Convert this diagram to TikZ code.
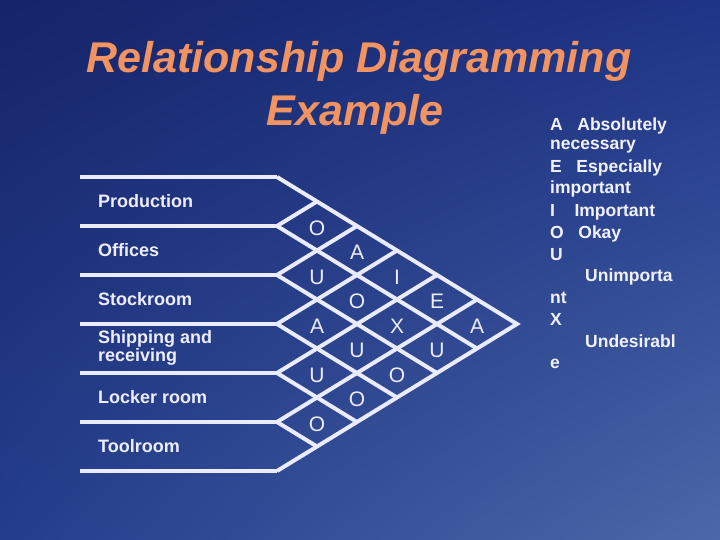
\documentclass[tikz,border=0pt]{standalone}
\usepackage{fontspec}
\usetikzlibrary{shadings}
\setmainfont{Liberation Sans}
\definecolor{bgul}{RGB}{22,36,105}
\definecolor{bgur}{RGB}{30,52,135}
\definecolor{bgll}{RGB}{36,62,140}
\definecolor{bglr}{RGB}{75,105,170}
\definecolor{ttlc}{RGB}{242,148,98}
\begin{document}
\begin{tikzpicture}[x=1pt,y=-1pt,
  grid/.style={draw=white!92!blue,line width=4pt},
  rowlab/.style={anchor=west,font=\bfseries\fontsize{18}{18}\selectfont,text=white!93!blue,inner sep=0pt,align=left},
  cell/.style={font=\fontsize{21}{21}\selectfont,text=white!93!blue},
  leg/.style={anchor=west,font=\bfseries\fontsize{17.5}{18}\selectfont,text=white!95!blue,inner sep=0pt},
  ttl/.style={font=\bfseries\itshape\fontsize{43}{43}\selectfont,text=ttlc}]
\useasboundingbox (0,0) rectangle (720,540);
\shade[upper left=bgul,upper right=bgur,lower left=bgll,lower right=bglr] (0,0) rectangle (720,540);
% title
\node[ttl] (t1) at (359,61) {Relationship Diagramming};
\node[ttl] (t2) at (355,114) {Example};
% grid
\def\L{277}\def\H{49}\def\D{80}\def\T{177}
\foreach \i in {0,...,6}{
  \draw[grid,line cap=butt] (80,\T+\i*\H) -- (\L,\T+\i*\H);
}
\coordinate (apex) at (\L+3*\D,\T+3*\H);
\draw[grid,line join=miter] (\L,\T) -- (apex) -- (\L,\T+6*\H);
\foreach \i in {1,...,5}{
  \draw[grid] (\L,\T+\i*\H) -- (\L+\D*0.5*6-\D*0.5*\i,\T+\i*\H+0.5*6*\H-0.5*\i*\H);
  \draw[grid] (\L,\T+\i*\H) -- (\L+\D*0.5*\i,\T+0.5*\i*\H);
}
% row labels
\foreach \n/\txt [count=\k from 0] in {r0/Production,r1/Offices,r2/Stockroom,r3/{Shipping and\\receiving},r4/Locker room,r5/Toolroom}{
  \node[rowlab] (\n) at (98,\T+\k*\H+24) {\txt};
}
% cells
\foreach \a/\b/\l in {0/1/O,0/2/A,0/3/I,0/4/E,0/5/A,1/2/U,1/3/O,1/4/X,1/5/U,2/3/A,2/4/U,2/5/O,3/4/U,3/5/O,4/5/O}{
  \node[cell] (c\a\b) at (\L+\D*0.5*\b-\D*0.5*\a,\T+0.5*\a*\H+0.5*\b*\H+0.5*\H+2) {\l};
}
% legend
\foreach \x/\y/\txt [count=\k] in {550/126/{A\ \ \ Absolutely},550/147/necessary,550/168/{E\ \ \ Especially},550/189/important,550/212/{I\ \ \ \ Important},550/234/{O\ \ \ Okay},550/255/U,585/277/Unimporta,550/298/nt,550/319/X,585/341/Undesirabl,550/364/e}{
  \node[leg] (l\k) at (\x,\y) {\txt};
}
\end{tikzpicture}
\end{document}
